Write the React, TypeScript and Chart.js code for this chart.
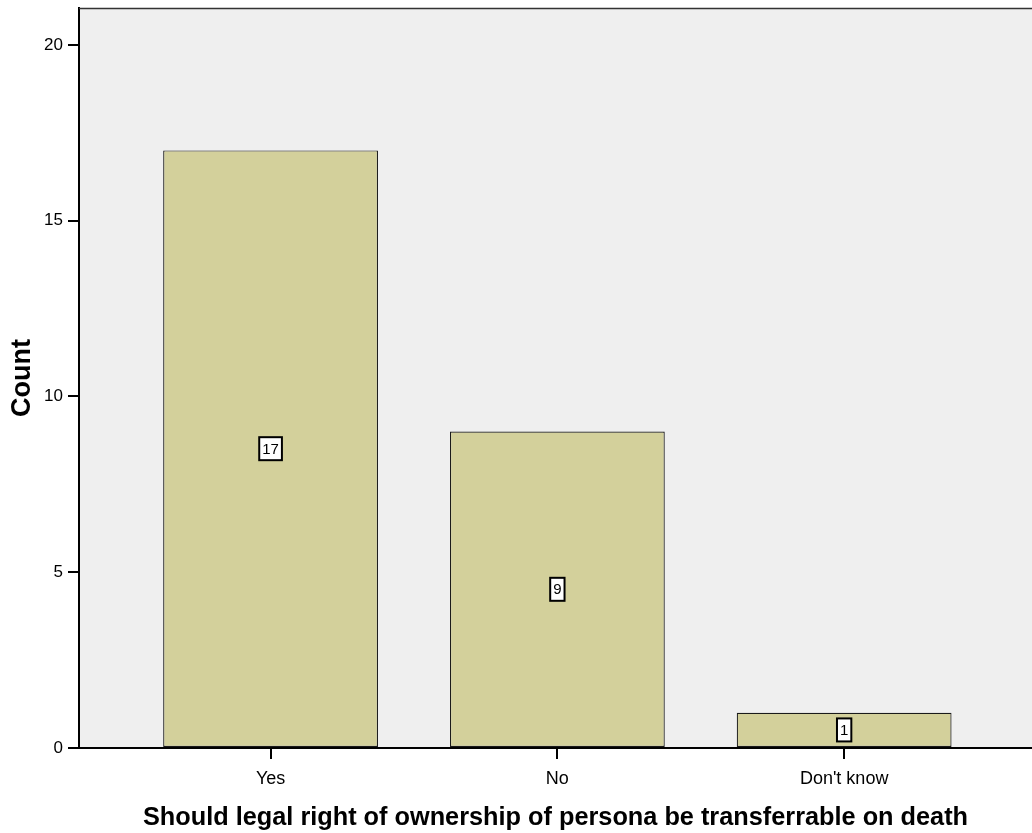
import React, { useEffect, useRef } from "react";
import { Chart, registerables } from "chart.js";

Chart.register(...registerables);

const categories: string[] = ["Yes", "No", "Don't know"];
const counts: number[] = [17, 9, 1];
const yTickValues: number[] = [0, 5, 10, 15, 20];
const xTitle = "Should legal right of ownership of persona be transferrable on death";
const yTitle = "Count";

const FONT = "'Liberation Sans', Arial, sans-serif";

const bgPlugin = {
  id: "plotBg",
  beforeDraw(chart: any) {
    const { ctx, chartArea } = chart;
    ctx.save();
    ctx.fillStyle = "#efefef";
    ctx.fillRect(chartArea.left, chartArea.top, chartArea.right - chartArea.left, chartArea.bottom - chartArea.top);
    ctx.restore();
  },
  afterDraw(chart: any) {
    const { ctx, chartArea } = chart;
    ctx.save();
    ctx.strokeStyle = "#333333";
    ctx.lineWidth = 1.5;
    ctx.beginPath();
    ctx.moveTo(chartArea.left, chartArea.top + 0.5);
    ctx.lineTo(chartArea.right, chartArea.top + 0.5);
    ctx.stroke();
    ctx.restore();
  },
};

const labelPlugin = {
  id: "boxLabels",
  afterDatasetsDraw(chart: any) {
    const { ctx } = chart;
    const meta = chart.getDatasetMeta(0);
    ctx.save();
    ctx.font = `15px ${FONT}`;
    ctx.textAlign = "center";
    ctx.textBaseline = "middle";
    meta.data.forEach((bar: any, i: number) => {
      const txt = String(counts[i]);
      const cx = bar.x;
      const cy = (bar.y + bar.base) / 2;
      const w = ctx.measureText(txt).width + 6;
      const h = 23;
      ctx.fillStyle = "#ffffff";
      ctx.fillRect(cx - w / 2, cy - h / 2, w, h);
      ctx.strokeStyle = "#000000";
      ctx.lineWidth = 2;
      ctx.strokeRect(cx - w / 2, cy - h / 2, w, h);
      ctx.fillStyle = "#000000";
      ctx.fillText(txt, cx, cy + 1);
    });
    ctx.restore();
  },
};

export default function App() {
  const ref = useRef<HTMLCanvasElement | null>(null);
  useEffect(() => {
    document.body.style.margin = "0";
    if (!ref.current) return;
    const chart = new Chart(ref.current, {
      type: "bar",
      data: {
        datasets: [
          {
            data: counts.map((c, i) => ({ x: i, y: c })),
            backgroundColor: "#d3d09b",
            borderColor: "#1a1a1a",
            borderWidth: 1.2,
            borderSkipped: false,
            barPercentage: 0.749,
            categoryPercentage: 1,
          },
        ],
      },
      options: {
        responsive: false,
        animation: false,
        layout: { padding: { top: 8, right: 0, left: 0, bottom: 0 } },
        plugins: { legend: { display: false }, tooltip: { enabled: false } },
        scales: {
          x: {
            type: "linear",
            offset: false,
            min: -0.668,
            max: 2.655,
            afterBuildTicks(scale: any) {
              scale.ticks = categories.map((_, i) => ({ value: i }));
            },
            afterFit(scale: any) {
              scale.height = 85;
              scale.paddingLeft = 0;
              scale.paddingRight = 0;
            },
            ticks: {
              callback: (v: any) => categories[Math.round(Number(v))] ?? "",
              font: { family: FONT, size: 18 },
              color: "#000",
              padding: 9,
              maxRotation: 0,
              autoSkip: false,
            },
            grid: { offset: false, drawOnChartArea: false, drawTicks: true, tickLength: 11, color: "#000", lineWidth: 2 },
            border: { display: true, color: "#000", width: 2 },
            title: {
              display: true,
              text: xTitle,
              font: { family: FONT, size: 25.3, weight: "bold" },
              color: "#000",
              padding: { top: 1, bottom: 0 },
            },
          },
          y: {
            min: 0,
            max: 21.05,
            afterBuildTicks(scale: any) {
              scale.ticks = yTickValues.map((v) => ({ value: v }));
            },
            afterFit(scale: any) {
              scale.width = 79;
              scale.paddingTop = 0;
              scale.paddingBottom = 0;
            },
            ticks: {
              font: { family: FONT, size: 17 },
              color: "#000",
              padding: 5,
            },
            grid: { drawOnChartArea: false, drawTicks: true, tickLength: 11, color: "#000", lineWidth: 2 },
            border: { display: true, color: "#000", width: 2 },
            title: {
              display: true,
              text: yTitle,
              font: { family: FONT, size: 27, weight: "bold" },
              color: "#000",
              padding: { top: 6, bottom: 0 },
            },
          },
        },
      },
      plugins: [bgPlugin, labelPlugin],
    } as any);
    return () => chart.destroy();
  }, []);
  return (
    <div style={{ position: "absolute", left: 0, top: 0, width: 1032, height: 833 }}>
      <canvas ref={ref} width={1032} height={833} />
    </div>
  );
}
